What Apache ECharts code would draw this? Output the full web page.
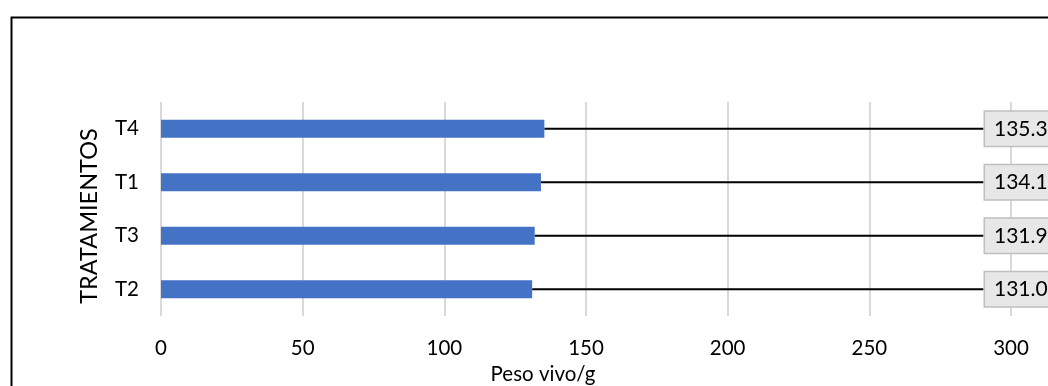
<!DOCTYPE html>
<html>
<head>
<meta charset="utf-8">
<script src="https://cdn.jsdelivr.net/npm/echarts@6/dist/echarts.min.js"></script>
<style>html,body{margin:0;padding:0;background:#fff}#c{width:1048px;height:386px}</style>
</head>
<body>
<div id="c"></div>
<script>
var categories = ['T2', 'T3', 'T1', 'T4'];
var values = [131.0, 131.9, 134.1, 135.3];
var xTicks = [0, 50, 100, 150, 200, 250, 300];
var xName = 'Peso vivo/g';
var yName = 'TRATAMIENTOS';

var FONT = 'Lato, "Liberation Sans", sans-serif';
var chart = echarts.init(document.getElementById('c'), null, {renderer: 'canvas'});
chart.setOption({
  animation: false,
  backgroundColor: '#fff',
  graphic: [{
    type: 'rect', left: 9, top: 15, z: -1,
    shape: {width: 1100, height: 420},
    style: {fill: 'none', stroke: '#000', lineWidth: 2}
  }],
  grid: {left: 161, right: 37, top: 102, bottom: 70, containLabel: false, outerBoundsMode: 'none'},
  xAxis: {
    type: 'value', min: xTicks[0], max: xTicks[xTicks.length - 1], interval: 50,
    name: xName, nameLocation: 'middle', nameGap: 47,
    nameTextStyle: {fontFamily: FONT, fontSize: 20.5, color: '#000', padding: [0, 86, 0, 0]},
    axisLine: {show: false}, axisTick: {show: false},
    axisLabel: {fontFamily: FONT, fontSize: 20.5, color: '#000', margin: 22},
    splitLine: {show: true, lineStyle: {color: '#d9d9d9', width: 2}}
  },
  yAxis: {
    type: 'category', data: categories,
    name: yName, nameLocation: 'middle', nameGap: 60, nameRotate: 90,
    nameTextStyle: {fontFamily: FONT, fontSize: 23.5, color: '#000', padding: [0, 14, 0, 0]},
    axisLine: {show: false}, axisTick: {show: false},
    axisLabel: {fontFamily: FONT, fontSize: 20.5, color: '#000', margin: 22}
  },
  series: [{
    type: 'bar', data: values, barWidth: 18,
    itemStyle: {color: '#4472c4'},
    label: {
      show: true, position: 'right', fontFamily: FONT, fontSize: 21, color: '#000',
      backgroundColor: '#e7e7e7', borderColor: '#bfbfbf', borderWidth: 1.5,
      padding: [7, 9, 6, 9],
      formatter: function (p) { return p.value.toFixed(1); }
    },
    labelLine: {show: true, lineStyle: {color: '#000', width: 2}},
    labelLayout: function (p) {
      return {x: 985, y: p.rect.y + p.rect.height / 2, align: 'left', verticalAlign: 'middle'};
    }
  }]
});
</script>
</body>
</html>
